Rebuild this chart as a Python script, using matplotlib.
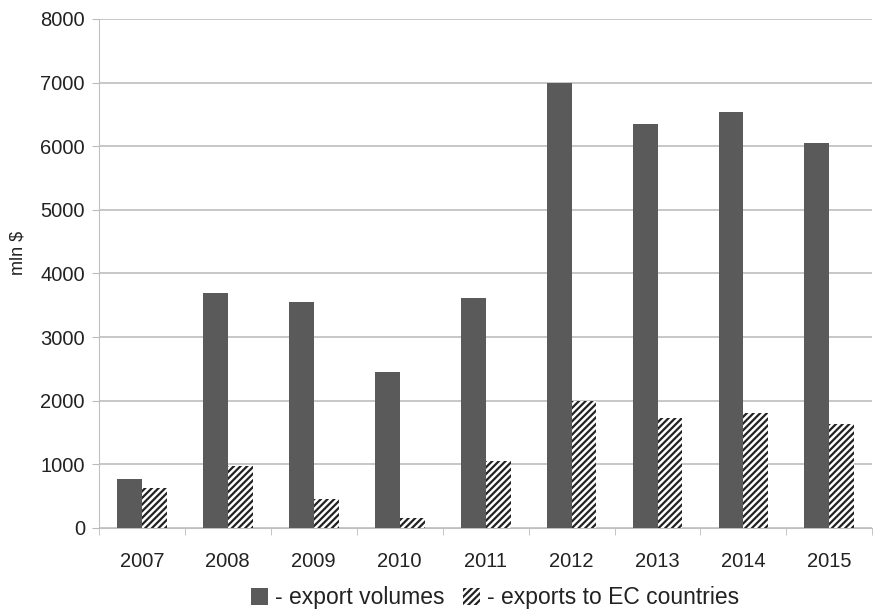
import numpy as np
import matplotlib.pyplot as plt

# Export data, mln $
years = ['2007', '2008', '2009', '2010', '2011', '2012', '2013', '2014', '2015']
export_volumes = [770, 3700, 3550, 2450, 3620, 7000, 6350, 6540, 6050]
exports_ec = [630, 975, 455, 160, 1050, 2000, 1730, 1810, 1635]

plt.rcParams['font.family'] = ['Liberation Sans', 'DejaVu Sans']
plt.rcParams['hatch.linewidth'] = 1.6

fig = plt.figure(figsize=(8.75, 6.11), dpi=100)
ax = fig.add_axes([0.113, 0.136, 0.884, 0.833])

x = np.arange(len(years))
w = 0.29
ax.bar(x - w / 2, export_volumes, w, color='#5a5a5a', label='- export volumes', zorder=3)
ax.bar(x + w / 2, exports_ec, w, color='white', edgecolor='#222222', hatch='/////',
       linewidth=0, label='- exports to EC countries', zorder=3)

ax.set_xlim(-0.5, len(years) - 0.5)
ax.set_ylim(0, 8000)
ax.set_yticks(range(0, 8001, 1000))
ax.set_xticks(x)
ax.set_xticklabels(years)
ax.set_xticks(np.arange(-0.5, len(years), 1), minor=True)
ax.tick_params(axis='x', which='major', length=0, pad=17, labelsize=14.5, colors='#222222')
ax.tick_params(axis='x', which='minor', length=5, color='#bbbbbb')
ax.tick_params(axis='y', length=5, color='#bbbbbb', labelsize=14.5, pad=5, labelcolor='#222222')
ax.grid(axis='y', color='#bdbdbd', linewidth=1.2, zorder=0)

for s in ['top', 'right']:
    ax.spines[s].set_visible(False)
ax.spines['left'].set_color('#c0c0c0')
ax.spines['bottom'].set_color('#c0c0c0')

ax.set_ylabel('mln $', fontsize=13, color='#222222')
ax.yaxis.set_label_coords(-0.093, 0.54)

ax.legend(loc='upper center', bbox_to_anchor=(0.512, -0.074), ncol=2, frameon=False,
          fontsize=16.5, handlelength=0.75, handleheight=0.75, handletextpad=0.3,
          columnspacing=0.8, labelcolor='#222222')

fig.savefig('out.png', dpi=100)
